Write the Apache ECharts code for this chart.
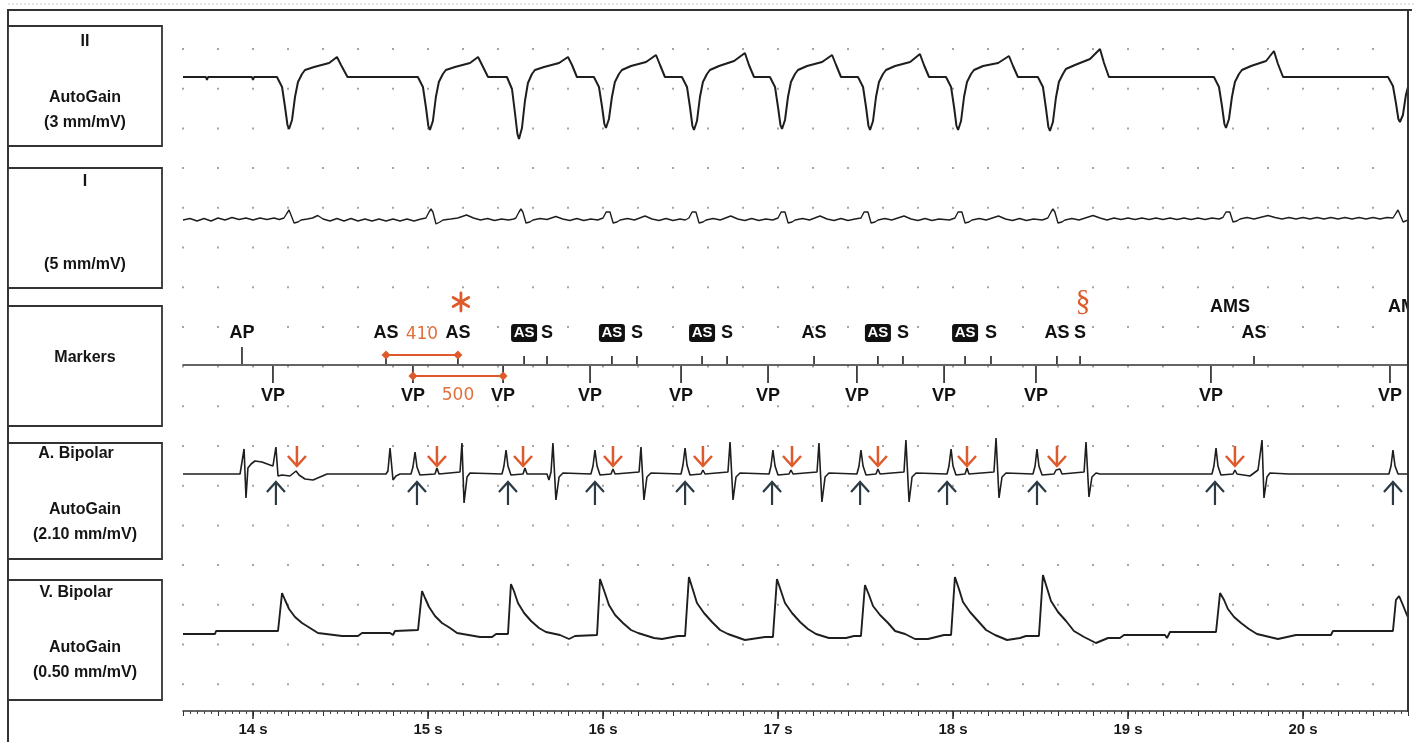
<!DOCTYPE html>
<html><head><meta charset="utf-8">
<script src="https://cdn.jsdelivr.net/npm/echarts@6/dist/echarts.min.js"></script>
<style>html,body{margin:0;padding:0;background:#fff}#c{width:1422px;height:742px}</style>
</head><body><div id="c"></div>
<script>
// ---------------- DATA (time in s, amplitude in relative units) ----------------
const leadII = [
[13.600,0],[13.731,0],[13.737,-0.3],[13.743,0],[13.994,0],[14.000,-0.3],[14.006,0],
[14.137,0],[14.166,-1.0],[14.183,-3.0],[14.197,-4.8],[14.206,-5.2],[14.223,-4.3],[14.240,-2.0],[14.257,-0.5],[14.280,0.3],[14.297,0.7],[14.349,1.0],[14.435,1.4],[14.480,2.0],[14.503,1.2],[14.540,0],
[14.860,0],[14.869,-0.2],[14.880,0],
[14.942,0],[14.971,-1.0],[14.988,-3.0],[15.002,-4.9],[15.011,-5.3],[15.028,-4.4],[15.045,-2.0],[15.062,-0.5],[15.085,0.3],[15.102,0.7],[15.154,1.0],[15.240,1.4],[15.286,2.0],[15.309,1.2],[15.343,0],
[15.451,0],[15.480,-1.2],[15.497,-3.6],[15.511,-5.7],[15.520,-6.2],[15.537,-5.1],[15.554,-2.4],[15.571,-0.6],[15.594,0.3],[15.611,0.7],[15.663,1.0],[15.749,1.4],[15.800,2.0],[15.823,1.2],[15.851,0],
[15.948,0],[15.977,-1.0],[15.994,-2.9],[16.008,-4.7],[16.017,-5.1],[16.034,-4.2],[16.051,-2.0],[16.068,-0.5],[16.091,0.3],[16.108,0.7],[16.160,1.1],[16.246,1.5],[16.303,2.2],[16.326,1.2],[16.354,0],
[16.451,0],[16.480,-1.0],[16.497,-3.0],[16.511,-4.9],[16.520,-5.3],[16.537,-4.4],[16.554,-2.0],[16.571,-0.5],[16.594,0.3],[16.611,0.7],[16.663,1.1],[16.749,1.6],[16.811,2.4],[16.834,1.2],[16.863,0],
[16.954,0],[16.983,-1.0],[17.000,-3.0],[17.014,-4.8],[17.023,-5.2],[17.040,-4.3],[17.057,-2.0],[17.074,-0.5],[17.097,0.3],[17.114,0.7],[17.166,1.1],[17.252,1.5],[17.309,2.2],[17.332,1.2],[17.360,0],
[17.457,0],[17.486,-1.0],[17.503,-3.0],[17.517,-4.9],[17.526,-5.3],[17.543,-4.4],[17.560,-2.0],[17.577,-0.5],[17.600,0.3],[17.617,0.7],[17.669,1.1],[17.755,1.5],[17.811,2.3],[17.834,1.2],[17.863,0],
[17.960,0],[17.989,-1.0],[18.006,-3.0],[18.020,-4.9],[18.029,-5.3],[18.046,-4.4],[18.063,-2.0],[18.080,-0.5],[18.103,0.3],[18.120,0.7],[18.172,1.1],[18.258,1.4],[18.320,2.1],[18.343,1.1],[18.371,0],
[18.485,0],[18.514,-1.0],[18.531,-3.1],[18.545,-5.0],[18.554,-5.4],[18.571,-4.5],[18.588,-2.1],[18.605,-0.5],[18.628,0.3],[18.645,0.8],[18.697,1.2],[18.783,1.8],[18.840,2.8],[18.863,1.4],[18.891,0],
[19.491,0],[19.520,-1.0],[19.537,-2.9],[19.551,-4.7],[19.560,-5.1],[19.577,-4.2],[19.594,-2.0],[19.611,-0.5],[19.634,0.3],[19.651,0.7],[19.703,1.1],[19.789,1.6],[19.834,2.6],[19.857,1.3],[19.886,0],
[20.486,0],[20.514,-0.9],[20.531,-2.6],[20.545,-4.2],[20.554,-4.5],[20.571,-3.8],[20.588,-1.8],[20.600,-1.0]
];
const leadI = [
[13.600,0],[13.640,0.15],[13.680,-0.1],[13.720,0.15],[13.760,-0.1],[13.800,0.2],[13.840,0],[13.880,0.25],[13.920,0.05],[13.960,0.2],[14.000,0],[14.040,0.2],[14.080,0.05],[14.120,0.2],[14.150,0.05],
[14.177,0.2],[14.195,0.7],[14.206,1.0],[14.217,0.8],[14.235,-0.3],[14.257,-0.2],[14.275,0],[14.310,0.1],[14.340,0.2],[14.370,0.45],[14.400,0.1],[14.440,-0.1],[14.480,0.15],[14.520,-0.1],[14.560,0.15],[14.600,-0.1],[14.640,0.1],[14.680,-0.1],[14.720,0.1],[14.760,-0.1],[14.800,0.1],[14.840,-0.1],[14.880,0.1],[14.920,-0.1],[14.960,0.1],
[14.988,0.2],[15.006,0.8],[15.017,1.1],[15.028,0.8],[15.046,-0.4],[15.068,-0.2],[15.086,0],[15.130,0.1],[15.170,0.2],[15.220,0.5],[15.260,0.2],[15.300,0],[15.340,0.15],[15.380,-0.05],[15.420,0.1],[15.460,0],[15.490,0.1],
[15.502,0.2],[15.520,0.8],[15.531,1.1],[15.542,0.8],[15.560,-0.3],[15.582,-0.2],[15.600,0],[15.640,0.15],[15.680,0.05],[15.730,0.35],[15.770,0.1],[15.810,-0.05],[15.850,0.15],[15.890,-0.05],[15.930,0.1],[15.970,0],
[16.000,0.2],[16.018,0.8],[16.029,1.0],[16.040,0.8],[16.058,-0.3],[16.080,-0.2],[16.098,0],[16.140,0.15],[16.180,0],[16.240,0.4],[16.280,0.1],[16.320,-0.05],[16.360,0.15],[16.400,-0.05],[16.440,0.1],[16.470,0],
[16.491,0.2],[16.509,0.8],[16.520,1.0],[16.531,0.8],[16.549,-0.3],[16.571,-0.2],[16.589,0],[16.630,0.15],[16.670,0],[16.730,0.4],[16.770,0.1],[16.810,-0.05],[16.850,0.15],[16.890,-0.05],[16.930,0.1],[16.970,0],
[17.000,0.2],[17.018,0.8],[17.029,1.0],[17.040,0.8],[17.058,-0.3],[17.080,-0.2],[17.098,0],[17.140,0.15],[17.180,0],[17.240,0.4],[17.280,0.1],[17.320,-0.05],[17.360,0.15],[17.400,-0.05],[17.440,0.1],
[17.474,0.2],[17.492,0.8],[17.503,1.0],[17.514,0.8],[17.532,-0.3],[17.554,-0.2],[17.572,0],[17.610,0.15],[17.650,0],[17.720,0.4],[17.760,0.1],[17.800,-0.05],[17.840,0.15],[17.880,-0.05],[17.920,0.1],[17.980,0],
[18.011,0.2],[18.029,0.8],[18.040,1.0],[18.051,0.8],[18.069,-0.3],[18.091,-0.2],[18.109,0],[18.150,0.15],[18.190,0],[18.260,0.4],[18.300,0.1],[18.340,-0.05],[18.380,0.15],[18.420,-0.05],[18.460,0.1],[18.510,0],
[18.542,0.2],[18.560,0.8],[18.571,1.1],[18.582,0.8],[18.600,-0.3],[18.622,-0.2],[18.640,0],[18.680,0.15],[18.720,0],[18.800,0.45],[18.840,0.2],[18.880,0],[18.920,0.2],[18.960,0.05],[19.000,0.2],[19.040,0.05],[19.080,0.2],[19.120,0.05],[19.160,0.2],[19.200,0.05],[19.240,0.2],[19.280,0.05],[19.320,0.2],[19.360,0.05],[19.400,0.2],[19.440,0.05],[19.480,0.2],[19.520,0.1],
[19.542,0.25],[19.560,0.8],[19.571,1.0],[19.582,0.8],[19.600,-0.2],[19.622,-0.1],[19.640,0.1],[19.680,0.25],[19.720,0.1],[19.800,0.45],[19.840,0.25],[19.880,0.1],[19.920,0.25],[19.960,0.1],[20.000,0.25],[20.040,0.1],[20.080,0.25],[20.120,0.1],[20.160,0.25],[20.200,0.1],[20.240,0.25],[20.280,0.1],[20.320,0.25],[20.360,0.1],[20.400,0.25],[20.440,0.1],[20.480,0.25],[20.514,0.2],
[20.532,0.7],[20.543,1.0],[20.554,0.8],[20.572,-0.2],[20.600,0]
];
const aBipolar = [
[13.600,0],[13.926,0],
[13.937,0.1],[13.949,2.5],[13.960,-2.4],[13.971,0.6],[13.989,1.0],[14.011,1.3],[14.051,1.2],[14.097,0.9],[14.114,0.8],[14.131,2.7],[14.143,-0.2],[14.166,-0.1],[14.211,-0.2],[14.246,0.3],[14.263,-0.1],[14.297,-0.5],[14.343,-0.6],[14.383,-0.3],[14.423,0],
[14.760,0],[14.771,0.3],[14.783,2.6],[14.800,-0.6],[14.817,-0.2],[14.840,0],
[14.903,0],[14.914,0.7],[14.926,2.2],[14.937,0.7],[14.954,-0.1],[15.040,0],[15.051,0.6],[15.063,0],
[15.183,0.2],[15.194,3.1],[15.206,-2.9],[15.223,-0.3],[15.240,0.1],
[15.423,0],[15.434,0.8],[15.446,2.4],[15.457,0.8],[15.474,-0.1],[15.543,0],[15.554,0.6],[15.566,0],
[15.680,0],[15.691,-0.6],[15.703,0.2],[15.714,3.1],[15.731,-2.6],[15.749,-0.3],[15.771,0.1],
[15.931,0],[15.943,0.8],[15.954,2.4],[15.966,0.8],[15.983,-0.1],[16.046,0],[16.057,0.5],[16.069,0],
[16.206,0.2],[16.217,2.7],[16.234,-2.6],[16.251,-0.3],[16.274,0.1],
[16.446,0],[16.457,0.9],[16.469,2.6],[16.480,0.9],[16.497,-0.1],[16.560,0],[16.571,0.4],[16.583,0],
[16.714,0.2],[16.726,3.2],[16.743,-2.6],[16.760,-0.3],[16.783,0.1],
[16.949,0],[16.960,0.8],[16.971,2.4],[16.983,0.8],[17.000,-0.1],[17.063,0],[17.074,0.4],[17.086,0],
[17.223,0.2],[17.234,3.1],[17.251,-2.8],[17.269,-0.3],[17.291,0.1],
[17.451,0],[17.463,0.8],[17.474,2.4],[17.486,0.8],[17.503,-0.1],[17.560,0],[17.571,0.5],[17.583,0],
[17.720,0.2],[17.731,3.4],[17.749,-2.8],[17.766,-0.3],[17.789,0.1],
[17.966,0],[17.977,0.8],[17.989,2.5],[18.000,0.8],[18.017,-0.1],[18.069,0],[18.080,0.6],[18.091,0],
[18.234,0.2],[18.246,3.6],[18.263,-2.4],[18.280,-0.3],[18.303,0.1],
[18.457,0],[18.469,0.8],[18.480,2.5],[18.491,0.8],[18.509,-0.1],[18.577,0],[18.589,0.4],[18.600,0.3],[18.611,0.5],[18.623,0],
[18.749,0.2],[18.760,3.2],[18.777,-2.3],[18.794,-0.3],[18.817,0.1],[18.840,0],
[19.480,0],[19.491,0.8],[19.503,2.6],[19.514,0.8],[19.531,-0.1],[19.600,0],[19.611,0.4],[19.623,0],[19.697,-0.2],[19.743,0.4],
[19.754,0.6],[19.766,3.4],[19.777,-2.4],[19.794,-0.3],[19.811,0.1],[19.920,0],
[20.491,0],[20.503,0.8],[20.514,2.4],[20.526,0.8],[20.543,0],[20.600,0]
];
const vBipolar = [
[13.600,-0.1],[13.783,-0.1],[13.789,0.2],[13.954,0.2],[13.960,0.4],[13.966,0.2],[14.143,0.2],
[14.166,4.0],[14.183,3.3],[14.206,2.4],[14.240,1.6],[14.280,1.0],[14.326,0.5],[14.371,0],[14.509,-0.3],[14.600,-0.3],[14.623,0],[14.783,0],[14.800,-0.2],[14.811,0.2],[14.943,0.3],
[14.966,4.2],[14.983,3.5],[15.006,2.6],[15.040,1.7],[15.080,1.0],[15.126,0.5],[15.166,0],[15.297,-0.4],[15.366,-0.4],[15.389,-0.1],[15.457,-0.1],
[15.474,4.9],[15.491,4.2],[15.514,3.0],[15.549,2.0],[15.589,1.2],[15.634,0.5],[15.674,0.1],[15.754,-0.2],[15.806,-0.6],[15.840,-0.3],[15.966,-0.2],
[15.983,5.4],[16.011,4.0],[16.034,2.8],[16.069,1.8],[16.114,1.0],[16.160,0.3],[16.200,0],[16.291,-0.5],[16.337,-0.6],[16.429,-0.3],[16.469,-0.3],
[16.491,5.6],[16.514,4.3],[16.537,3.0],[16.577,2.0],[16.623,1.1],[16.669,0.3],[16.714,-0.1],[16.811,-0.7],[16.926,-0.4],[16.971,-0.4],
[16.994,5.4],[17.017,4.2],[17.040,3.0],[17.080,2.0],[17.126,1.1],[17.171,0.4],[17.217,-0.1],[17.291,-0.5],[17.389,-0.5],[17.434,-0.3],[17.474,-0.3],
[17.497,4.8],[17.520,3.8],[17.543,2.7],[17.583,1.8],[17.629,1.0],[17.669,0.2],[17.726,-0.1],[17.783,-0.6],[17.857,-0.6],[17.949,-0.2],[17.989,-0.2],
[18.011,5.6],[18.034,4.4],[18.057,3.1],[18.097,2.1],[18.143,1.2],[18.189,0.3],[18.240,-0.2],[18.309,-0.7],[18.383,-0.5],[18.417,-0.3],[18.491,-0.3],
[18.514,5.8],[18.537,4.5],[18.560,3.2],[18.600,2.1],[18.646,1.2],[18.691,0.2],[18.749,-0.4],[18.817,-1.0],[18.886,-0.5],[18.954,-0.5],[18.977,-0.2],[19.211,-0.2],[19.223,-0.5],[19.240,0.1],[19.503,0.1],
[19.526,4.0],[19.549,3.3],[19.571,2.4],[19.606,1.6],[19.646,1.0],[19.691,0.4],[19.737,-0.1],[19.857,-0.6],[19.960,-0.2],[20.160,-0.2],[20.171,0.2],[20.514,0.2],
[20.531,3.3],[20.549,3.7],[20.566,3.0],[20.594,1.8],[20.600,1.6]
];
// Marker channel
const atrialTimes  = [13.937,14.760,15.171,15.549,15.680,16.051,16.194,16.566,16.709,17.206,17.571,17.714,18.069,18.217,18.594,18.726,19.720];
const atrialLabels = ['AP','AS','AS','AS','S','AS','S','AS','S','AS','AS','S','AS','S','AS','S','AS'];
const atrialBoxed  = [0,0,0,1,0,1,0,1,0,0,1,0,1,0,0,0,0];
const ventTimes  = [14.114,14.914,15.429,15.926,16.446,16.943,17.451,17.949,18.474,19.474,20.497];
const ventLabels = ['VP','VP','VP','VP','VP','VP','VP','VP','VP','VP','VP'];
const amsTimes  = [19.583,20.600];
const amsLabels = ['AMS','AMS'];
// Interval annotations (ms)
const intervalFrom   = [14.760,14.914];
const intervalTo     = [15.171,15.429];
const intervalLabels = ['410','500'];
const intervalRows   = ['above','below'];
// Symbols over the marker channel
const symbolTimes = [15.171,18.726];
const symbolMarks = ['*','§'];
// Arrows on the atrial bipolar channel
const orangeArrowTimes = [14.251,15.051,15.543,16.057,16.571,17.080,17.571,18.080,18.594,19.611];
const darkArrowTimes   = [14.131,14.937,15.457,15.954,16.469,16.966,17.469,17.966,18.480,19.497,20.514];
// Axis
const majorTicks = [14,15,16,17,18,19,20];
const tickUnit = ' s';
// Channel captions
const captions = [
  ['II','AutoGain','(3 mm/mV)'],
  ['I','','(5 mm/mV)'],
  ['','Markers',''],
  ['A. Bipolar','AutoGain','(2.10 mm/mV)'],
  ['V. Bipolar','AutoGain','(0.50 mm/mV)']
];

// ---------------- LAYOUT ----------------
const XMIN = 13.6, XMAX = 20.6, LEFT = 183, RIGHT = 14;
const ORANGE = '#df5a2b', INK = '#1e1e1e', FONT = '"Liberation Sans"';
const gridLayout = [
  {top:48, height:638},  // 0 background dots
  {top:27, height:120},  // 1 lead II
  {top:170, height:100}, // 2 lead I
  {top:290, height:150}, // 3 markers
  {top:434, height:100}, // 4 A bipolar
  {top:563, height:100}, // 5 V bipolar
  {top:700, height:11},  // 6 time axis (minor)
  {top:700, height:11}   // 7 time axis (major)
];
const yRange = [[0,1],[-7,5],[-5,5],[-1,1],[-6,4],[-3,7],[0,1],[0,1]];

const grids = gridLayout.map(g => ({left:LEFT, right:RIGHT, top:g.top, height:g.height}));
const yAxes = yRange.map((r,i) => ({type:'value', gridIndex:i, min:r[0], max:r[1], show:false}));
const xAxes = gridLayout.map((g,i) => ({type:'value', gridIndex:i, min:XMIN, max:XMAX, show:false}));
xAxes[0] = {type:'value', gridIndex:0, min:XMIN, max:XMAX, interval:0.2,
  axisLine:{show:false}, axisTick:{show:false}, axisLabel:{show:false},
  splitLine:{show:true, lineStyle:{color:'#9c9c9c', width:1.8, type:[2,37.7]}}};
xAxes[3] = {type:'value', gridIndex:3, min:XMIN, max:XMAX,
  axisLine:{show:true, onZero:true, lineStyle:{color:'#333', width:1.6}},
  axisTick:{show:false}, axisLabel:{show:false}, splitLine:{show:false}};
xAxes[6] = {type:'value', gridIndex:6, min:XMIN, max:XMAX, interval:0.2, position:'bottom',
  axisLine:{show:true, onZero:false, lineStyle:{color:'#333', width:1.5}},
  axisTick:{show:true, length:5, lineStyle:{color:'#333', width:1}},
  minorTick:{show:true, splitNumber:5, length:3, lineStyle:{color:'#444', width:1}},
  axisLabel:{show:false}, splitLine:{show:false}};
xAxes[7] = {type:'value', gridIndex:7, min:XMIN, max:XMAX, splitNumber:7, position:'bottom',
  axisLine:{show:false, onZero:false},
  axisTick:{show:true, length:8, customValues:majorTicks, lineStyle:{color:'#222', width:1.5}},
  axisLabel:{show:true, customValues:majorTicks, margin:11,
    formatter: v => (Math.abs(v-Math.round(v))<1e-6 ? Math.round(v)+tickUnit : ''),
    color:'#1a1a1a', fontFamily:'Liberation Sans', fontWeight:'bold', fontSize:15},
  splitLine:{show:false}};

function txt(x,y,text,font,fill){
  return {type:'text', style:{text:text, x:x, y:y, font:font, fill:fill, align:'center', verticalAlign:'middle'}};
}
function seg(x1,y1,x2,y2,color,w){
  return {type:'line', shape:{x1:x1,y1:y1,x2:x2,y2:y2}, style:{stroke:color, lineWidth:w}};
}

const traceStyle = (w) => ({color:INK, width:w});
const MARKFONT = 'bold 18px '+FONT;
const series = [
  {type:'line', xAxisIndex:1, yAxisIndex:1, data:leadII, showSymbol:false, lineStyle:traceStyle(2), z:5},
  {type:'line', xAxisIndex:2, yAxisIndex:2, data:leadI, showSymbol:false, lineStyle:traceStyle(1.4), z:5},
  {type:'line', xAxisIndex:4, yAxisIndex:4, data:aBipolar, showSymbol:false, lineStyle:traceStyle(1.6), z:5},
  {type:'line', xAxisIndex:5, yAxisIndex:5, data:vBipolar, showSymbol:false, lineStyle:traceStyle(1.9), z:5},
  // atrial markers (above baseline)
  {type:'custom', xAxisIndex:3, yAxisIndex:3, clip:true, z:6,
    data: atrialTimes.map((t,i)=>[t,0,i]),
    renderItem:(params, api)=>{
      const i = api.value(2), p = api.coord([api.value(0),0]);
      const lab = atrialLabels[i], boxed = atrialBoxed[i];
      const len = lab==='AP' ? 18 : 9;
      const ch = [seg(p[0], p[1]-len, p[0], p[1]-1, '#222', 1.6)];
      if (boxed) {
        ch.push({type:'rect', shape:{x:p[0]-13, y:p[1]-41, width:26, height:18, r:3}, style:{fill:'#111'}});
        ch.push(txt(p[0], p[1]-32, lab, 'bold 15px '+FONT, '#fff'));
      } else {
        ch.push(txt(p[0], p[1]-32, lab, MARKFONT, '#111'));
      }
      return {type:'group', children:ch};
    }},
  // ventricular markers (below baseline)
  {type:'custom', xAxisIndex:3, yAxisIndex:3, clip:true, z:6,
    data: ventTimes.map((t,i)=>[t,0,i]),
    renderItem:(params, api)=>{
      const i = api.value(2), p = api.coord([api.value(0),0]);
      return {type:'group', children:[
        seg(p[0], p[1]+1, p[0], p[1]+18, '#222', 1.6),
        txt(p[0], p[1]+31, ventLabels[i], MARKFONT, '#111')
      ]};
    }},
  // AMS labels
  {type:'custom', xAxisIndex:3, yAxisIndex:3, clip:true, z:6,
    data: amsTimes.map((t,i)=>[t,0,i]),
    renderItem:(params, api)=>{
      const i = api.value(2), p = api.coord([api.value(0),0]);
      return txt(p[0], p[1]-58, amsLabels[i], MARKFONT, '#111');
    }},
  // interval brackets
  {type:'custom', xAxisIndex:3, yAxisIndex:3, z:7,
    data: intervalFrom.map((f,i)=>[f,0,intervalTo[i],i]),
    renderItem:(params, api)=>{
      const i = api.value(3);
      const a = api.coord([api.value(0),0]), b = api.coord([api.value(2),0]);
      const above = intervalRows[i]==='above';
      const y = a[1] + (above ? -10 : 11);
      const ly = a[1] + (above ? -30 : 31);
      const d = (x)=>({type:'polygon', shape:{points:[[x-4.5,y],[x,y-4.5],[x+4.5,y],[x,y+4.5]]}, style:{fill:ORANGE}});
      return {type:'group', children:[
        seg(a[0], y, b[0], y, ORANGE, 2),
        d(a[0]), d(b[0]),
        txt((a[0]+b[0])/2, ly, intervalLabels[i], '17px "DejaVu Sans"', '#e2703c')
      ]};
    }},
  // asterisk and section mark
  {type:'custom', xAxisIndex:3, yAxisIndex:3, z:7,
    data: symbolTimes.map((t,i)=>[t,0,i]),
    renderItem:(params, api)=>{
      const i = api.value(2), p = api.coord([api.value(0),0]);
      const cx = p[0]+3, cy = p[1]-63;
      if (symbolMarks[i]==='*') {
        const ch = [];
        [90,30,150].forEach(deg=>{
          const r = deg*Math.PI/180, dx = Math.cos(r)*9, dy = Math.sin(r)*9;
          ch.push({type:'line', shape:{x1:cx-dx,y1:cy-dy,x2:cx+dx,y2:cy+dy}, style:{stroke:ORANGE, lineWidth:2.8, lineCap:'round'}});
        });
        return {type:'group', children:ch};
      }
      return txt(cx, cy, symbolMarks[i], '30px "Liberation Serif"', ORANGE);
    }},
  // orange down arrows
  {type:'custom', xAxisIndex:4, yAxisIndex:4, z:7,
    data: orangeArrowTimes.map(t=>[t,0]),
    renderItem:(params, api)=>{
      const p = api.coord([api.value(0),0]);
      const x = p[0], tip = p[1]-8;
      return {type:'group', children:[
        seg(x, tip-20, x, tip, ORANGE, 2.5),
        {type:'polyline', shape:{points:[[x-9,tip-10],[x,tip],[x+9,tip-10]]}, style:{stroke:ORANGE, lineWidth:2.5, fill:null}}
      ]};
    }},
  // dark up arrows
  {type:'custom', xAxisIndex:4, yAxisIndex:4, z:7,
    data: darkArrowTimes.map(t=>[t,0]),
    renderItem:(params, api)=>{
      const p = api.coord([api.value(0),0]);
      const x = p[0], tip = p[1]+8;
      const c = '#2c3a44';
      return {type:'group', children:[
        seg(x, tip, x, tip+23, c, 2.2),
        {type:'polyline', shape:{points:[[x-9,tip+10],[x,tip],[x+9,tip+10]]}, style:{stroke:c, lineWidth:2.2, fill:null}}
      ]};
    }}
];

// Frame and channel caption boxes
const boxGeom = [{y:26,h:120},{y:168,h:120},{y:306,h:120},{y:443,h:116},{y:580,h:120}];
const captionY = [[42,98,123],[182,0,265],[0,358,0],[454,510,535],[593,648,673]];
const captionX = [[85,85,85],[85,85,85],[85,85,85],[76,85,85],[76,85,85]];
const graphic = [];
graphic.push({type:'line', z:100, shape:{x1:8,y1:4,x2:1414,y2:4}, style:{stroke:'#c8c8c8', lineWidth:1, lineDash:[2,2]}});
graphic.push({type:'line', z:100, shape:{x1:7,y1:10,x2:1412,y2:10}, style:{stroke:'#333', lineWidth:2.2}});
graphic.push({type:'line', z:100, shape:{x1:8,y1:10,x2:8,y2:742}, style:{stroke:'#333', lineWidth:2}});
graphic.push({type:'line', z:100, shape:{x1:1408,y1:10,x2:1408,y2:712}, style:{stroke:'#333', lineWidth:2}});
boxGeom.forEach((b,i)=>{
  graphic.push({type:'rect', z:100, shape:{x:8,y:b.y,width:154,height:b.h}, style:{fill:'#fff', stroke:'#333', lineWidth:1.8}});
  captions[i].forEach((t,j)=>{
    if (!t) return;
    graphic.push({type:'text', z:101, x:captionX[i][j], y:captionY[i][j],
      style:{text:t, font:'bold 16px '+FONT, fill:'#151515', align:'center', verticalAlign:'middle'}});
  });
});

const chart = echarts.init(document.getElementById('c'));
chart.setOption({
  animation:false,
  backgroundColor:'#fff',
  grid:grids, xAxis:xAxes, yAxis:yAxes, series:series, graphic:graphic
});
</script>
</body></html>
